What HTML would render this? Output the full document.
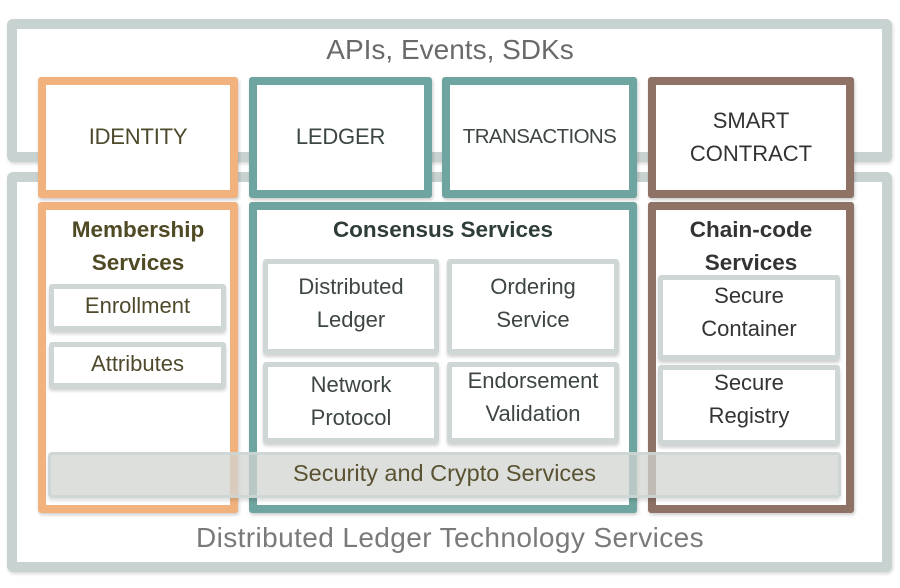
<!DOCTYPE html>
<html><head><meta charset="utf-8"><style>
body{margin:0;background:#fff;width:900px;height:588px;overflow:hidden;position:relative;font-family:"Liberation Sans",Arial,sans-serif}
.b{position:absolute;box-sizing:border-box;background:#fff}
.outer{border:10px solid #c8d2d1;border-radius:6px;box-shadow:1px 2px 3px rgba(0,0,0,.15)}
.or{border:8px solid #f1b27d;border-radius:3px;box-shadow:1px 2px 3px rgba(0,0,0,.2)}
.te{border:8px solid #6fa5a0;border-radius:3px;box-shadow:1px 2px 3px rgba(0,0,0,.2)}
.br{border:8px solid #8e7265;border-radius:3px;box-shadow:1px 2px 3px rgba(0,0,0,.2)}
.g{border:5px solid #cfd7d6;border-radius:3px;box-shadow:0 3px 3px rgba(0,0,0,.18)}
.t{position:absolute;text-align:center;line-height:33px;font-size:22px;white-space:nowrap}
.bd{font-weight:bold;font-size:22.5px}
.band{position:absolute;box-sizing:border-box;left:48px;top:452px;width:793px;height:46px;background:rgba(210,212,209,.75);border:3px solid rgba(205,214,213,.85);border-radius:4px;box-shadow:0 3px 3px rgba(0,0,0,.12)}
</style></head><body>
<div class="b outer" style="left:7px;top:19px;width:885px;height:143px"></div>
<div class="b outer" style="left:7px;top:172px;width:885px;height:400px"></div>

<div class="b or" style="left:38px;top:77px;width:200px;height:121px"></div>
<div class="b te" style="left:249px;top:77px;width:183px;height:121px"></div>
<div class="b te" style="left:442px;top:77px;width:195px;height:121px"></div>
<div class="b br" style="left:648px;top:77px;width:206px;height:121px"></div>

<div class="b or" style="left:38px;top:202px;width:200px;height:311px"></div>
<div class="b te" style="left:249px;top:202px;width:388px;height:311px"></div>
<div class="b br" style="left:648px;top:202px;width:206px;height:311px"></div>

<div class="b g" style="left:49px;top:284px;width:177px;height:47px"></div>
<div class="b g" style="left:49px;top:342px;width:177px;height:46px"></div>
<div class="b g" style="left:263px;top:259px;width:176px;height:95px"></div>
<div class="b g" style="left:263px;top:362px;width:176px;height:81px"></div>
<div class="b g" style="left:447px;top:259px;width:172px;height:95px"></div>
<div class="b g" style="left:447px;top:362px;width:172px;height:81px"></div>
<div class="b g" style="left:658px;top:275px;width:182px;height:85px"></div>
<div class="b g" style="left:658px;top:365px;width:182px;height:80px"></div>

<div class="band"></div>

<div class="t" style="left:0;width:900px;top:33px;font-size:28px;color:#6a6a6a">APIs, Events, SDKs</div>
<div class="t" style="left:0;width:900px;top:521px;font-size:28px;letter-spacing:.4px;color:#7a7a7a">Distributed Ledger Technology Services</div>

<div class="t" style="left:38px;width:200px;top:120px;color:#4d4a2c;letter-spacing:-.2px">IDENTITY</div>
<div class="t" style="left:249px;width:183px;top:120px;color:#3b4645;letter-spacing:-.2px">LEDGER</div>
<div class="t" style="left:442px;width:195px;top:120px;font-size:20.5px;color:#3e4644;letter-spacing:-.6px">TRANSACTIONS</div>
<div class="t" style="left:648px;width:206px;top:104px;color:#333">SMART<br>CONTRACT</div>

<div class="t bd" style="left:38px;width:200px;top:213px;color:#4f4a24">Membership<br>Services</div>
<div class="t bd" style="left:249px;width:388px;top:213px;color:#2f3d39">Consensus Services</div>
<div class="t bd" style="left:648px;width:206px;top:213px;color:#333">Chain-code<br>Services</div>

<div class="t" style="left:49px;width:177px;top:289px;color:#4f4a2c">Enrollment</div>
<div class="t" style="left:49px;width:177px;top:347px;color:#4f4a2c">Attributes</div>
<div class="t" style="left:263px;width:176px;top:270px;color:#3d4645">Distributed<br>Ledger</div>
<div class="t" style="left:263px;width:176px;top:368px;color:#3d4645">Network<br>Protocol</div>
<div class="t" style="left:447px;width:172px;top:270px;color:#3d4645">Ordering<br>Service</div>
<div class="t" style="left:447px;width:172px;top:364px;color:#3d4645">Endorsement<br>Validation</div>
<div class="t" style="left:658px;width:182px;top:279px;color:#333">Secure<br>Container</div>
<div class="t" style="left:658px;width:182px;top:366px;color:#333">Secure<br>Registry</div>

<div class="t" style="left:48px;width:793px;top:457px;font-size:23.5px;color:#5a5230">Security and Crypto Services</div>
</body></html>
